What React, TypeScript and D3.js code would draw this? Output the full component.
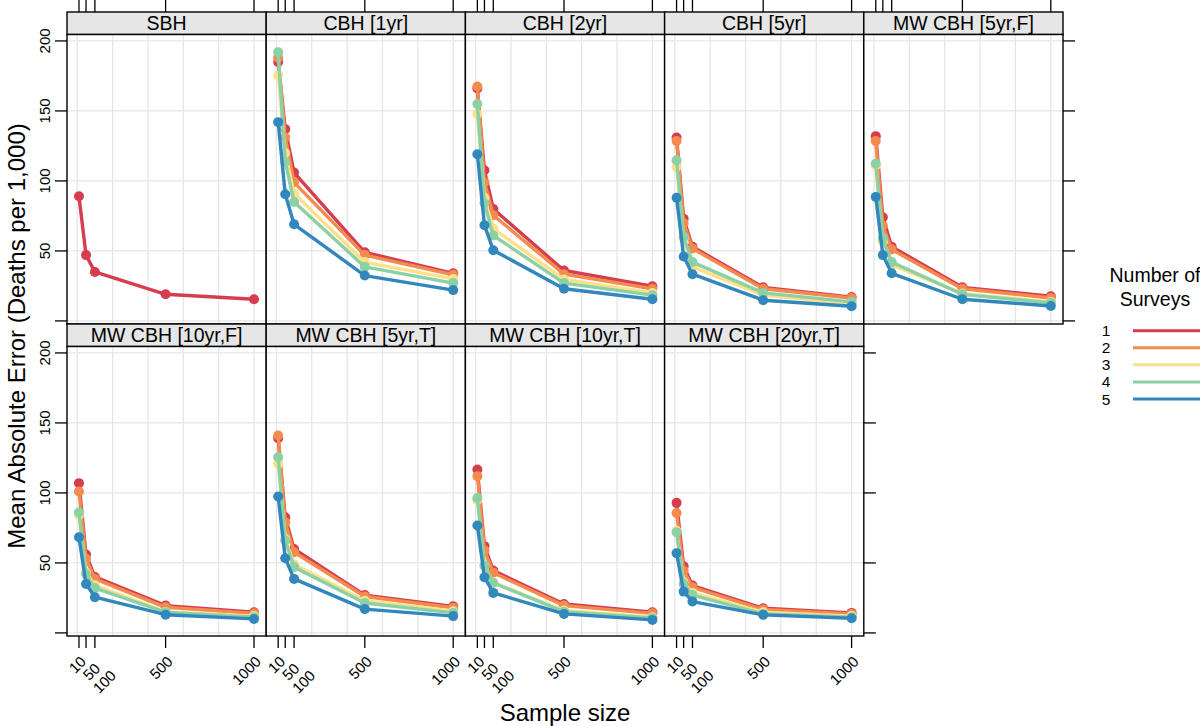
import React from "react";
import * as d3 from "d3";

// sample sizes on the x axis
const sampleSizes = [10, 50, 100, 500, 1000];
const surveyLabels = ["1", "2", "3", "4", "5"];
const surveyColors = ["#D53E4F", "#F48B4E", "#FEE08B", "#8CD1A5", "#3288BD"];

const panelNames = [
  "SBH",
  "CBH [1yr]",
  "CBH [2yr]",
  "CBH [5yr]",
  "MW CBH [5yr,F]",
  "MW CBH [10yr,F]",
  "MW CBH [5yr,T]",
  "MW CBH [10yr,T]",
  "MW CBH [20yr,T]",
];

// mean absolute error, one row per number of surveys
const sbh = [[89, 47, 35, 19, 15.5]];
const cbh1yr = [
  [185, 137, 106, 49, 34],
  [188, 131, 99, 47, 33],
  [175.5, 120, 91, 42, 30],
  [192, 113.6, 85, 38.6, 27],
  [142, 90.5, 69, 32.4, 22],
];
const cbh2yr = [
  [166, 107.6, 80, 36, 24.8],
  [167.5, 99, 75.5, 33.4, 23],
  [148, 88, 66, 29.6, 20],
  [155, 84, 61, 27, 18.4],
  [119, 68.4, 50.5, 23, 15.5],
];
const cbh5yr = [
  [131, 73, 53, 24, 17],
  [128.6, 70, 51.7, 23, 16.4],
  [110, 59, 38.6, 18.4, 12],
  [114.8, 60, 42, 20, 13.6],
  [88, 46, 33.4, 14.8, 10.5],
];
const mw5yrF = [
  [132, 74, 53, 24, 17.6],
  [128.6, 68, 51, 23, 16.4],
  [111, 57, 40, 19.5, 13.6],
  [112.4, 59, 42, 19, 12.9],
  [88.6, 47, 34, 15.5, 10.7],
];
const mw10yrF = [
  [107, 56, 40, 19.5, 14.8],
  [101, 53, 38.6, 18.3, 14],
  [84, 43, 34, 15, 12],
  [86, 42, 32, 14.8, 11.2],
  [68.4, 35, 25.5, 13, 10],
];
const mw5yrT = [
  [139, 82.6, 60, 27, 19],
  [141, 79, 57.6, 26, 18],
  [120.7, 67, 49, 23, 15.5],
  [125.5, 66, 47, 21.4, 14.3],
  [97.4, 53.3, 38.6, 17, 12],
];
const mw10yrT = [
  [116.7, 62, 44.5, 20.7, 14.8],
  [112, 59, 43, 19.5, 14],
  [95, 48, 36, 16, 11.2],
  [96.4, 48, 35.7, 15.2, 10.7],
  [76.7, 39.8, 28.6, 13.6, 9.3],
];
const mw20yrT = [
  [92.9, 47.6, 33.8, 17.6, 14.3],
  [85.7, 44.5, 32.6, 16.7, 13.6],
  [73, 36, 28.6, 14.8, 12],
  [71.9, 35, 27, 13.6, 11.2],
  [57, 29.5, 22.4, 12.9, 10.5],
];
const panelValues = [sbh, cbh1yr, cbh2yr, cbh5yr, mw5yrF, mw10yrF, mw5yrT, mw10yrT, mw20yrT];

const xTicks = [10, 50, 100, 500, 1000];
// the crowded labels are staggered onto extra lines
const xTickLine = [0, 1, 2, 0, 0];
const xGrid = [0, 200, 400, 600, 800, 1000];
const yTicks = [0, 50, 100, 150, 200];

const W = 1200;
const H = 726;
const left = 67;
const colW = 199.2;
const stripH = 22.5;
const panelH = 289.5;
const rowTop = [12, 324];
const tickLen = 12;
const font = "'Liberation Sans', Arial, Helvetica, sans-serif";

const x = d3.scaleLinear().domain([-57.7, 1069]).range([0, colW]);
const y = d3.scaleLinear().domain([-2.2, 204.6]).range([panelH, 0]);

const line = d3
  .line<number>()
  .x((_, i) => x(sampleSizes[i]))
  .y((d) => y(d));

const Panel: React.FC<{ idx: number }> = ({ idx }) => {
  const row = Math.floor(idx / 5);
  const col = idx % 5;
  const px = left + col * colW;
  const sy = rowTop[row];
  const py = sy + stripH;
  const series = panelValues[idx];
  const isBottom = row === 1;
  const showRight = (row === 0 && col === 4) || (row === 1 && col === 3);
  return (
    <g>
      {/* strip */}
      <rect x={px} y={sy} width={colW} height={stripH} fill="#E6E6E6" stroke="#000" strokeWidth={1.4} />
      <text x={px + colW / 2} y={sy + stripH / 2 + 7} textAnchor="middle" fontSize={19.5} fontFamily={font}>
        {panelNames[idx]}
      </text>
      <g transform={`translate(${px},${py})`}>
        <rect width={colW} height={panelH} fill="#fff" />
        {xGrid.map((g) => (
          <line key={"gx" + g} x1={x(g)} x2={x(g)} y1={0} y2={panelH} stroke="#E6E6E6" strokeWidth={1.3} />
        ))}
        {yTicks.map((g) => (
          <line key={"gy" + g} x1={0} x2={colW} y1={y(g)} y2={y(g)} stroke="#E6E6E6" strokeWidth={1.3} />
        ))}
        {series.map((vals, s) => (
          <g key={s}>
            <path d={line(vals) || ""} fill="none" stroke={surveyColors[s]} strokeWidth={3.4} strokeLinejoin="round" />
            {vals.map((v, i) => (
              <circle key={i} cx={x(sampleSizes[i])} cy={y(v)} r={5} fill={surveyColors[s]} />
            ))}
          </g>
        ))}
        <rect width={colW} height={panelH} fill="none" stroke="#000" strokeWidth={1.4} />
        {/* left axis */}
        {col === 0 &&
          yTicks.map((t) => (
            <g key={"yl" + t}>
              <line x1={-tickLen} x2={0} y1={y(t)} y2={y(t)} stroke="#000" strokeWidth={1.3} />
              {t > 0 && (
                <text
                  transform={`translate(${-17},${y(t)}) rotate(-90)`}
                  textAnchor="middle"
                  fontSize={15}
                  fontFamily={font}
                >
                  {t}
                </text>
              )}
            </g>
          ))}
        {showRight &&
          yTicks.map((t) => (
            <line key={"yr" + t} x1={colW} x2={colW + tickLen} y1={y(t)} y2={y(t)} stroke="#000" strokeWidth={1.3} />
          ))}
        {/* top axis ticks on first row */}
        {row === 0 &&
          xTicks.map((t) => (
            <line key={"xt" + t} x1={x(t)} x2={x(t)} y1={-stripH} y2={-stripH - tickLen - 2} stroke="#000" strokeWidth={1.3} />
          ))}
        {isBottom &&
          xTicks.map((t, i) => (
            <g key={"xb" + t}>
              <line x1={x(t)} x2={x(t)} y1={panelH} y2={panelH + tickLen} stroke="#000" strokeWidth={1.3} />
              <text
                transform={`translate(${x(t) + 8},${panelH + 26.5}) rotate(-45)`}
                dy={xTickLine[i] * 10}
                textAnchor="end"
                fontSize={15}
                fontFamily={font}
              >
                {t}
              </text>
            </g>
          ))}
      </g>
    </g>
  );
};

const legendY = d3.scaleLinear().domain([0, 4]).range([330.7, 399]);

const App: React.FC = () => (
  <svg
    width={W}
    height={H}
    style={{ position: "absolute", left: 0, top: 0, background: "#fff" }}
  >
    <rect width={W} height={H} fill="#fff" />
    {panelNames.map((_, i) => (
      <Panel key={i} idx={i} />
    ))}
    <text
      transform={`translate(25,${336}) rotate(-90)`}
      textAnchor="middle"
      fontSize={24}
      fontFamily={font}
    >
      Mean Absolute Error (Deaths per 1,000)
    </text>
    <text x={565} y={721} textAnchor="middle" fontSize={24} fontFamily={font}>
      Sample size
    </text>
    {/* legend */}
    <text x={1155} y={282} textAnchor="middle" fontSize={19.5} fontFamily={font}>
      Number of
    </text>
    <text x={1155} y={306} textAnchor="middle" fontSize={19.5} fontFamily={font}>
      Surveys
    </text>
    {surveyLabels.map((lab, i) => (
      <g key={lab}>
        <text x={1106} y={legendY(i) + 5.5} textAnchor="middle" fontSize={15.5} fontFamily={font}>
          {lab}
        </text>
        <line x1={1133} x2={1210} y1={legendY(i)} y2={legendY(i)} stroke={surveyColors[i]} strokeWidth={3} />
      </g>
    ))}
  </svg>
);

export default App;
